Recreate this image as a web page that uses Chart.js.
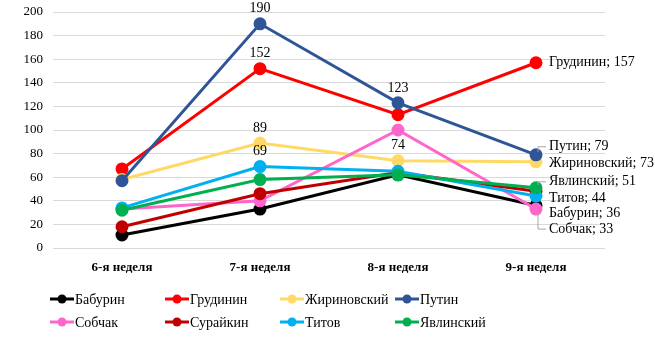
<!DOCTYPE html>
<html>
<head>
<meta charset="utf-8">
<script src="https://cdn.jsdelivr.net/npm/chart.js@4/dist/chart.umd.min.js"></script>
<style>
html,body{margin:0;padding:0;background:#fff;}
#wrap{width:655px;height:346px;position:relative;}
</style>
</head>
<body>
<div id="wrap"><canvas id="c" width="655" height="346"></canvas></div>
<script>
const categories = ["6-я неделя", "7-я неделя", "8-я неделя", "9-я неделя"];
const seriesNames = ["Бабурин", "Грудинин", "Жириновский", "Путин", "Собчак", "Сурайкин", "Титов", "Явлинский"];
const baburin     = [11, 33, 62, 36];
const grudinin    = [67, 152, 113, 157];
const zhirinovsky = [58, 89, 74, 73];
const putin       = [57, 190, 123, 79];
const sobchak     = [33, 40, 100, 33];
const suraykin    = [18, 46, 64, 48];
const titov       = [34, 69, 65, 44];
const yavlinsky   = [32, 58, 62, 51];
const yTicks = [0, 20, 40, 60, 80, 100, 120, 140, 160, 180, 200];

const seriesValues = [baburin, grudinin, zhirinovsky, putin, sobchak, suraykin, titov, yavlinsky];
const colors = ["#000000", "#FF0000", "#FFD966", "#2F5597", "#FF66CC", "#C00000", "#00B0F0", "#00B050"];

// value labels shown above points: [seriesIndex, categoryIndex]
const topLabels = [[3,1],[1,1],[2,1],[6,1],[3,2],[2,2]];
// end labels at last category: seriesIndex -> vertical offset (style), leader flag
const endLabels = [
  {s:1, dy:0,  leader:false},
  {s:3, dy:-8, leader:true},
  {s:2, dy:1,  leader:false},
  {s:7, dy:-6, leader:true},
  {s:6, dy:2,  leader:false},
  {s:0, dy:8,  leader:false},
  {s:4, dy:20, leader:true}
];

const FONT = "'Liberation Serif', 'Times New Roman', serif";

const labelPlugin = {
  id: 'labels',
  afterDatasetsDraw(chart) {
    const ctx = chart.ctx;
    ctx.save();
    ctx.fillStyle = '#000';
    ctx.font = '14px ' + FONT;
    ctx.textAlign = 'center';
    ctx.textBaseline = 'middle';
    topLabels.forEach(([s, i]) => {
      const el = chart.getDatasetMeta(s).data[i];
      ctx.fillText(String(seriesValues[s][i]), el.x, el.y - 15);
    });
    ctx.textAlign = 'left';
    const last = categories.length - 1;
    endLabels.forEach(l => {
      const el = chart.getDatasetMeta(l.s).data[last];
      const lx = el.x + 13, ly = el.y + l.dy;
      if (l.leader) {
        ctx.strokeStyle = '#a6a6a6';
        ctx.lineWidth = 1;
        ctx.beginPath();
        const sy = l.dy < 0 ? el.y - 3 : el.y + 3;
        ctx.moveTo(el.x + 2, sy);
        ctx.lineTo(el.x + 2, ly);
        ctx.lineTo(lx - 3, ly);
        ctx.stroke();
      }
      ctx.fillStyle = '#000';
      ctx.fillText(seriesNames[l.s] + '; ' + seriesValues[l.s][last], lx, ly);
    });
    ctx.restore();
  }
};

const legendPlugin = {
  id: 'customLegend',
  afterDraw(chart) {
    const ctx = chart.ctx;
    ctx.save();
    ctx.font = '14px ' + FONT;
    ctx.textBaseline = 'middle';
    ctx.textAlign = 'left';
    chart.data.datasets.forEach((ds, idx) => {
      const col = idx % 4, row = Math.floor(idx / 4);
      const x = 50 + col * 115, y = 299 + row * 23;
      ctx.strokeStyle = ds.borderColor;
      ctx.lineWidth = 3;
      ctx.beginPath();
      ctx.moveTo(x, y);
      ctx.lineTo(x + 24, y);
      ctx.stroke();
      ctx.fillStyle = ds.borderColor;
      ctx.beginPath();
      ctx.arc(x + 12, y, 4.5, 0, Math.PI * 2);
      ctx.fill();
      ctx.fillStyle = '#000';
      ctx.fillText(ds.label, x + 25, y + 1);
    });
    ctx.restore();
  }
};

new Chart(document.getElementById('c'), {
  type: 'line',
  data: {
    labels: categories,
    datasets: seriesNames.map((n, i) => ({
      label: n,
      data: seriesValues[i],
      borderColor: colors[i],
      backgroundColor: colors[i],
      pointBackgroundColor: colors[i],
      pointBorderColor: colors[i],
      borderWidth: 3,
      pointRadius: 5,
      tension: 0,
      order: -i,
      clip: false
    }))
  },
  options: {
    responsive: false,
    animation: false,
    events: [],
    layout: { padding: { top: 12, right: 50, bottom: 68, left: 0 } },
    plugins: { legend: { display: false }, tooltip: { enabled: false } },
    scales: {
      x: {
        offset: true,
        grid: { display: false },
        border: { display: false },
        ticks: { color: '#000', font: { family: FONT, size: 13, weight: 'bold' }, padding: 4, maxRotation: 0 },
        afterFit(scale) { scale.height = 30; scale.paddingLeft = 0; scale.paddingRight = 0; }
      },
      y: {
        min: 0, max: 200,
        afterBuildTicks(scale) { scale.ticks = yTicks.map(v => ({ value: v })); },
        grid: { color: '#d9d9d9', lineWidth: 1, drawTicks: false },
        border: { display: false },
        ticks: { color: '#000', font: { family: FONT, size: 13 }, padding: 10 },
        afterFit(scale) { scale.width = 53; scale.paddingTop = 0; scale.paddingBottom = 0; }
      }
    }
  },
  plugins: [labelPlugin, legendPlugin]
});
</script>
</body>
</html>
